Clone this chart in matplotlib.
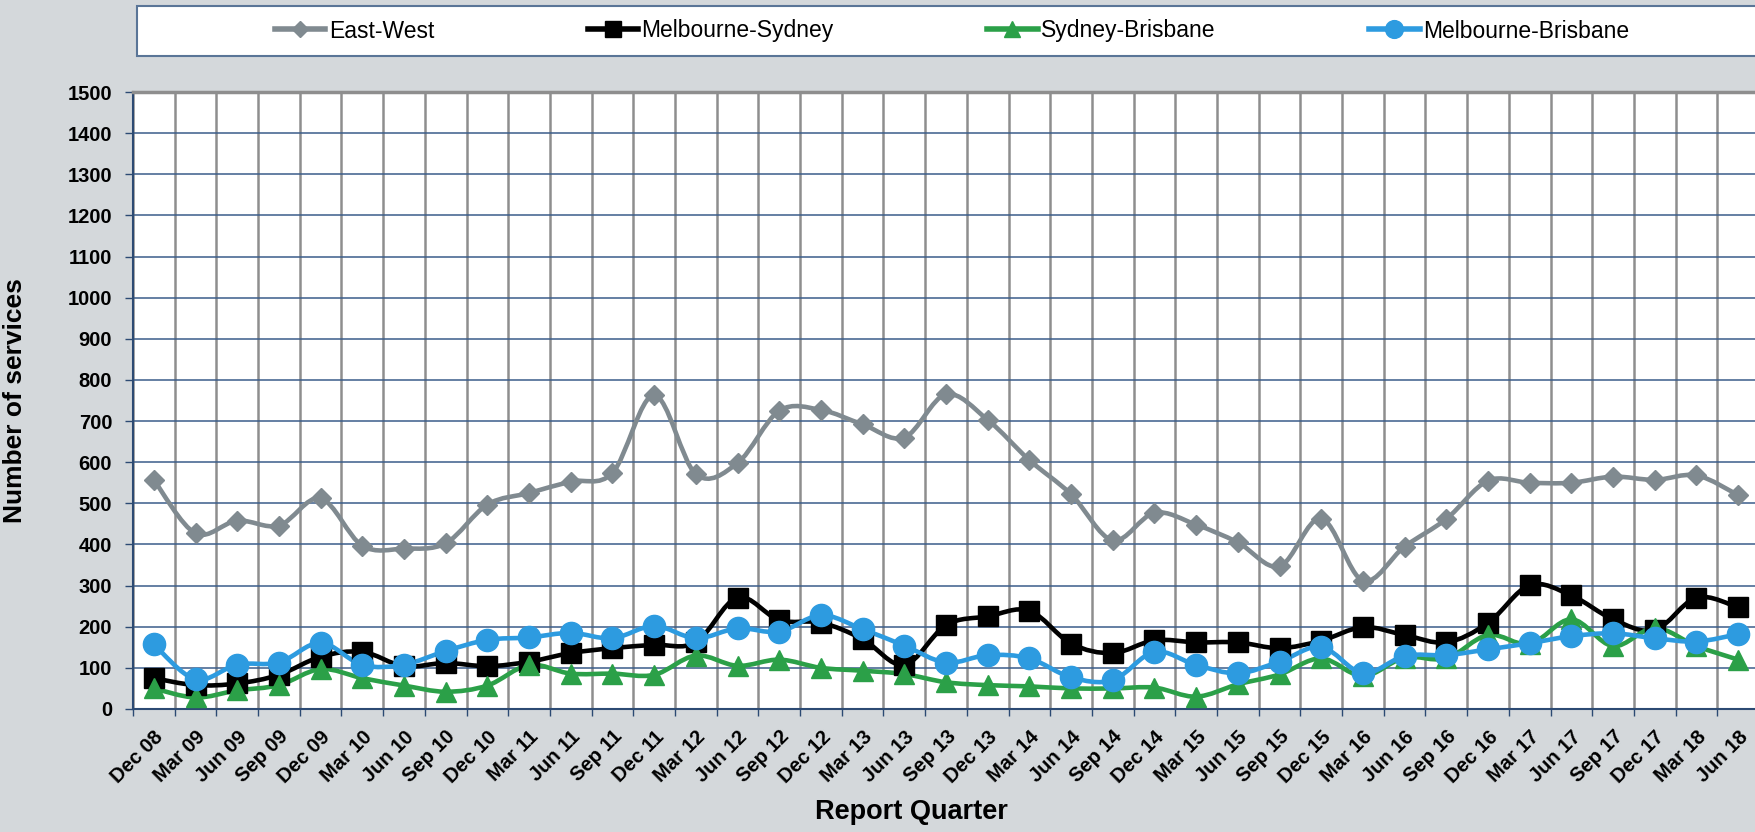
import numpy as np
import matplotlib
matplotlib.use("Agg")
import matplotlib.pyplot as plt
from matplotlib.path import Path
from matplotlib.patches import PathPatch, Rectangle
from matplotlib.lines import Line2D

plt.rcParams['font.family'] = ['Liberation Sans', 'DejaVu Sans']

quarters = ["Dec 08", "Mar 09", "Jun 09", "Sep 09", "Dec 09", "Mar 10", "Jun 10", "Sep 10",
            "Dec 10", "Mar 11", "Jun 11", "Sep 11", "Dec 11", "Mar 12", "Jun 12", "Sep 12",
            "Dec 12", "Mar 13", "Jun 13", "Sep 13", "Dec 13", "Mar 14", "Jun 14", "Sep 14",
            "Dec 14", "Mar 15", "Jun 15", "Sep 15", "Dec 15", "Mar 16", "Jun 16", "Sep 16",
            "Dec 16", "Mar 17", "Jun 17", "Sep 17", "Dec 17", "Mar 18", "Jun 18"]

east_west = [557, 427, 458, 446, 512, 397, 390, 403, 497, 525, 553, 574, 763, 571,
             598, 725, 727, 692, 660, 765, 703, 605, 522, 410, 477, 448, 405, 347,
             463, 312, 395, 462, 555, 550, 550, 565, 557, 568, 520]
melb_syd = [75, 58, 62, 83, 127, 139, 104, 112, 104, 115, 136, 148, 156, 162,
            271, 216, 210, 170, 107, 204, 225, 239, 159, 136, 167, 162, 162, 148,
            166, 199, 180, 162, 209, 301, 276, 218, 192, 271, 247]
syd_bris = [50, 28, 45, 58, 97, 75, 57, 42, 57, 107, 86, 86, 83, 130,
            105, 120, 100, 93, 85, 65, 58, 55, 50, 50, 52, 30, 60, 84,
            123, 80, 125, 123, 180, 158, 218, 153, 197, 153, 120]
melb_bris = [157, 72, 108, 113, 161, 107, 108, 141, 168, 174, 185, 172, 202, 172,
             196, 188, 228, 194, 154, 113, 131, 123, 77, 70, 139, 107, 87, 115,
             151, 87, 129, 131, 145, 160, 177, 184, 172, 164, 182]

series = [
    ("East-West", east_west, "#808A90", "D", 10),
    ("Melbourne-Sydney", melb_syd, "#000000", "s", 15),
    ("Sydney-Brisbane", syd_bris, "#2BA048", "^", 14.5),
    ("Melbourne-Brisbane", melb_bris, "#2D9BE0", "o", 16),
]


def smooth_path(x, y):
    # Excel-style smoothed line: Catmull-Rom segments as cubic Bezier curves
    pts = np.column_stack([x, y]).astype(float)
    ext = np.vstack([pts[0], pts, pts[-1]])
    verts = [pts[0]]
    codes = [Path.MOVETO]
    for i in range(1, len(ext) - 2):
        p0, p1, p2, p3 = ext[i - 1], ext[i], ext[i + 1], ext[i + 2]
        verts += [p1 + (p2 - p0) / 6.0, p2 - (p3 - p1) / 6.0, p2]
        codes += [Path.CURVE4] * 3
    return Path(verts, codes)


bg = "#D4D8DB"
navy = "#2C4A73"
fig = plt.figure(figsize=(17.55, 8.32), dpi=100, facecolor=bg)
ax = fig.add_axes([133 / 1755, 1 - 709 / 832, 1626 / 1755, 617 / 832])
ax.set_facecolor("white")

x = np.arange(len(quarters))
for name, vals, col, mk, ms in series:
    ax.add_patch(PathPatch(smooth_path(x, vals), fill=False, edgecolor=col, lw=3.3,
                           capstyle="round", joinstyle="round", zorder=3))
    ax.plot(x, vals, linestyle="none", marker=mk, markersize=ms, color=col,
            markeredgecolor=col, zorder=4, clip_on=False)

ax.set_xlim(-0.5, len(quarters) - 0.5)
ax.set_ylim(0, 1500)
ax.set_yticks(np.arange(0, 1501, 100))
ax.tick_params(axis="y", labelsize=14.5, length=6, width=1, color=navy, pad=9)
for lab in ax.get_yticklabels():
    lab.set_fontweight("bold")

ax.set_xticks(x)
ax.set_xticklabels(quarters, rotation=45, ha="right", va="top",
                   rotation_mode="anchor", fontsize=14.5, fontweight="bold")
ax.tick_params(axis="x", which="major", length=0, pad=13)
ax.set_xticks(np.arange(-0.5, len(quarters), 1), minor=True)
ax.tick_params(axis="x", which="minor", length=5, width=1, color=navy, direction="out")

ax.grid(axis="y", which="major", color="#3A5D8A", lw=1.1, zorder=1)
ax.grid(axis="x", which="minor", color="#8E8E8E", lw=1.8, zorder=1)
ax.set_axisbelow(True)

for side in ["left", "bottom"]:
    ax.spines[side].set_color(navy)
    ax.spines[side].set_linewidth(1.5)
ax.spines["top"].set_color("#8E8E8E")
ax.spines["top"].set_linewidth(2.5)
ax.spines["right"].set_visible(False)

ax.set_ylabel("Number of services", fontsize=19, fontweight="bold")
ax.yaxis.set_label_coords(-(133 - 27) / 1626, 0.5)
fig.text(911 / 1755, 1 - 812 / 832, "Report Quarter", fontsize=19.5, fontweight="bold",
         ha="center", va="center")

# legend box across the top
fig.patches.append(Rectangle((137 / 1755, 1 - 56 / 832), 1.0, 50 / 832,
                             transform=fig.transFigure, facecolor="white",
                             edgecolor="#5A7597", lw=1.5, zorder=0))
handles = [Line2D([], [], color=col, lw=4, marker=mk, markersize=ms * 0.8,
                  markeredgecolor=col) for _, _, col, mk, ms in series]
fig.legend(handles, [s[0] for s in series], loc="center",
           bbox_to_anchor=(952 / 1755, 1 - 31 / 832), ncol=4, frameon=False,
           fontsize=16.5, handlelength=2.2, handletextpad=0.15, columnspacing=6.7)

fig.savefig("out.png", dpi=100, facecolor=bg)
